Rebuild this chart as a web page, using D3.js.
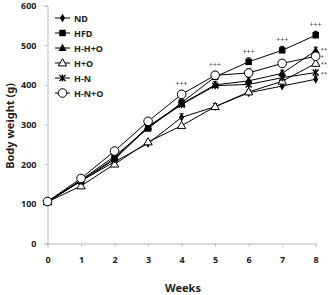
<!DOCTYPE html>
<html>
<head>
<meta charset="utf-8">
<script src="https://cdn.jsdelivr.net/npm/d3@7"></script>
<style>
body { margin: 0; background: #fff; }
text { font-family: "Noto Sans", "DejaVu Sans", sans-serif; font-weight: bold; fill: #222; }
.sig { font-weight: normal; fill: #444; }
.sigs { filter: grayscale(1); }
</style>
</head>
<body>
<div id="chart"></div>
<script>
var weeks = [0, 1, 2, 3, 4, 5, 6, 7, 8];
var yTicks = [0, 100, 200, 300, 400, 500, 600];

var nd   = [105, 158, 206, 252, 318, 345, 380, 397, 414];
var hfd  = [105, 160, 220, 290, 355, 420, 458, 487, 525];
var hho  = [105, 158, 215, 295, 352, 400, 410, 429, 486];
var ho   = [105, 145, 200, 256, 297, 345, 382, 409, 454];
var hn   = [105, 157, 212, 293, 350, 398, 401, 418, 431];
var hno  = [106, 164, 233, 308, 376, 424, 430, 454, 472];

var errHfd = [3, 5, 7, 8, 9, 9, 10, 10, 10];
var errHno = [3, 5, 7, 9, 10, 10, 10, 10, 10];
var errNd  = [3, 5, 6, 7, 9, 8, 8, 8, 8];
var errHho = [3, 4, 6, 7, 7, 8, 8, 8, 9];

var seriesNames = ["ND", "HFD", "H-H+O", "H+O", "H-N", "H-N+O"];
var seriesValues = [nd, hfd, hho, ho, hn, hno];
var seriesErr = [errNd, errHfd, errHho, null, null, errHno];
var seriesMarks = ["diamond", "square", "tri", "triOpen", "star", "circle"];

var hfdSig = ["", "", "", "", "+++", "+++", "+++", "+++", "+++"];
// week 8 marks next to the right ends (dy nudges so they don't collide)
var sideSig = [
    { series: 2, label: "**", dy: 1 },
    { series: 5, label: "+", dy: 3 },
    { series: 3, label: "**", dy: 3 },
    { series: 4, label: "**", dy: 3 }
];

var width = 328, height = 295;
var svg = d3.select("#chart").append("svg")
    .attr("width", width)
    .attr("height", height);

var x = d3.scaleLinear().domain([0, 8]).range([47.5, 315.7]);
var y = d3.scaleLinear().domain([0, 600]).range([243.5, 5.5]);

// axes
var xAxis = svg.append("g")
    .attr("transform", "translate(0," + y(0) + ")")
    .call(d3.axisBottom(x).tickValues(weeks).tickSize(3).tickPadding(10).tickFormat(d3.format("d")));
var yAxis = svg.append("g")
    .attr("transform", "translate(" + x(0) + ",0)")
    .call(d3.axisLeft(y).tickValues(yTicks).tickSize(3).tickPadding(8));
[xAxis, yAxis].forEach(function (a) {
    a.select(".domain").attr("stroke", "#bbb");
    a.selectAll(".tick line").attr("stroke", "#bbb");
    a.selectAll(".tick text").style("font-size", "9px").attr("fill", "#222");
});

svg.append("text")
    .attr("x", 183).attr("y", 292)
    .attr("text-anchor", "middle")
    .style("font-size", "11px")
    .text("Weeks");

svg.append("text")
    .attr("transform", "translate(14,126) rotate(-90)")
    .attr("text-anchor", "middle")
    .style("font-size", "11px")
    .text("Body weight (g)");

function marker(g, kind, cx, cy) {
    if (kind == "circle") {
        g.append("circle").attr("cx", cx).attr("cy", cy).attr("r", 4.3)
            .attr("fill", "#fff").attr("stroke", "#000").attr("stroke-width", 1);
    } else if (kind == "square") {
        g.append("path").attr("d", d3.symbol().type(d3.symbolSquare).size(42)())
            .attr("transform", "translate(" + cx + "," + cy + ")").attr("fill", "#000");
    } else if (kind == "diamond") {
        g.append("path").attr("d", d3.symbol().type(d3.symbolDiamond).size(22)())
            .attr("transform", "translate(" + cx + "," + cy + ")").attr("fill", "#000");
    } else if (kind == "tri") {
        g.append("path").attr("d", d3.symbol().type(d3.symbolTriangle).size(30)())
            .attr("transform", "translate(" + cx + "," + (cy + 0.5) + ")").attr("fill", "#000");
    } else if (kind == "triOpen") {
        g.append("path").attr("d", d3.symbol().type(d3.symbolTriangle).size(30)())
            .attr("transform", "translate(" + cx + "," + (cy + 0.5) + ")")
            .attr("fill", "#fff").attr("stroke", "#000").attr("stroke-width", 1);
    } else if (kind == "star") {
        var s = 3;
        g.append("path")
            .attr("d", "M" + (cx - s) + "," + (cy - s) + "L" + (cx + s) + "," + (cy + s) +
                "M" + (cx + s) + "," + (cy - s) + "L" + (cx - s) + "," + (cy + s) +
                "M" + cx + "," + (cy - s - 0.5) + "L" + cx + "," + (cy + s + 0.5))
            .attr("stroke", "#000").attr("stroke-width", 1.4);
    }
}

var line = d3.line()
    .x(function (d, i) { return x(weeks[i]); })
    .y(function (d) { return y(d); });

var plot = svg.append("g");

// error bars (upper only)
seriesValues.forEach(function (vals, s) {
    var err = seriesErr[s];
    if (!err) return;
    vals.forEach(function (v, i) {
        if (i == 0) return;
        var cx = x(weeks[i]);
        plot.append("line").attr("x1", cx).attr("x2", cx)
            .attr("y1", y(v)).attr("y2", y(v + err[i])).attr("stroke", "#000");
        plot.append("line").attr("x1", cx - 2).attr("x2", cx + 2)
            .attr("y1", y(v + err[i])).attr("y2", y(v + err[i])).attr("stroke", "#000");
    });
});

seriesValues.forEach(function (vals) {
    plot.append("path")
        .attr("d", line(vals))
        .attr("fill", "none")
        .attr("stroke", "#000")
        .attr("stroke-width", 1);
});

seriesValues.forEach(function (vals, s) {
    vals.forEach(function (v, i) {
        marker(plot, seriesMarks[s], x(weeks[i]), y(v));
    });
});

// significance labels, above the highest point of each week
var sigs = svg.append("g").attr("class", "sigs");
hfdSig.forEach(function (t, i) {
    if (!t) return;
    var top = d3.max([hfd[i] + errHfd[i], hno[i] + errHno[i]]);
    sigs.append("text")
        .attr("class", "sig")
        .attr("x", x(weeks[i])).attr("y", y(top) - 4)
        .attr("text-anchor", "middle")
        .style("font-size", "7px")
        .text(t);
});
sideSig.forEach(function (d) {
    sigs.append("text")
        .attr("class", "sig")
        .attr("x", x(8) + 5).attr("y", y(seriesValues[d.series][8]) + d.dy)
        .style("font-size", "6px")
        .text(d.label);
});

// legend
var legend = svg.append("g");
var legendY = [18, 33, 48, 63, 78, 93];
seriesNames.forEach(function (name, i) {
    var ly = legendY[i];
    legend.append("line").attr("x1", 55).attr("x2", 70)
        .attr("y1", ly).attr("y2", ly).attr("stroke", "#000");
    marker(legend, seriesMarks[i], 62.5, ly);
    legend.append("text").attr("x", 74).attr("y", ly + 3.5)
        .style("font-size", "9px")
        .text(name);
});
</script>
</body>
</html>
